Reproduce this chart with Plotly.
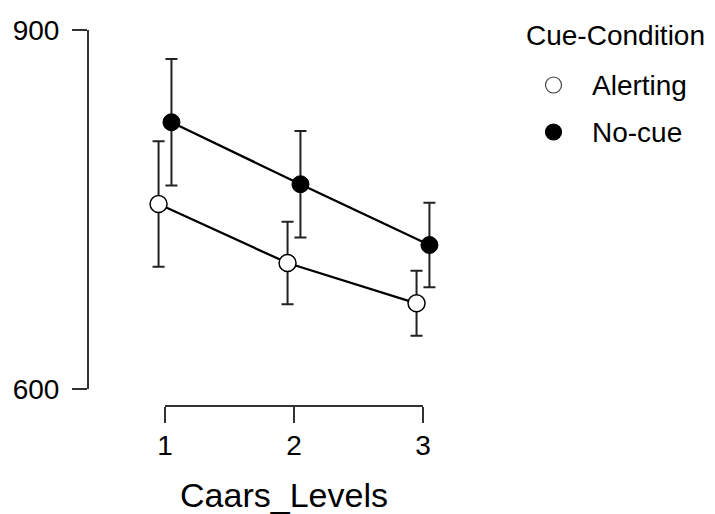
import plotly.graph_objects as go

levels = [1, 2, 3]
alerting_mean = [754.6, 705.3, 671.6]
alerting_err = [52.4, 34.5, 27.2]
nocue_mean = [822.9, 771.1, 720.3]
nocue_err = [52.8, 44.4, 35.3]
y_ticks = [600, 900]
series_names = ["Alerting", "No-cue"]
legend_title = "Cue-Condition"
dodge = 0.05

FONT = "Liberation Sans, Arial, sans-serif"
fig = go.Figure()

x_al = [v - dodge for v in levels]
x_nc = [v + dodge for v in levels]

for xs, ys in [(x_al, alerting_mean), (x_nc, nocue_mean)]:
    fig.add_trace(go.Scatter(x=xs, y=ys, mode="lines", line=dict(color="black", width=2.3),
                             showlegend=False, hoverinfo="skip", cliponaxis=False))

fig.add_trace(go.Scatter(
    x=x_al, y=alerting_mean, mode="markers", name=series_names[0], showlegend=False,
    marker=dict(size=17, color="white", line=dict(color="black", width=1.5)),
    error_y=dict(type="data", array=alerting_err, color="#222", thickness=2, width=6),
    cliponaxis=False))
fig.add_trace(go.Scatter(
    x=x_nc, y=nocue_mean, mode="markers", name=series_names[1], showlegend=False,
    marker=dict(size=17, color="black", line=dict(color="black", width=1)),
    error_y=dict(type="data", array=nocue_err, color="#222", thickness=2, width=6),
    cliponaxis=False))

# axis lines (R-style, spanning only the tick range)
fig.add_shape(type="line", xref="paper", yref="y", x0=0, x1=0, y0=min(y_ticks), y1=max(y_ticks),
              line=dict(color="#333", width=2))
fig.add_shape(type="line", xref="x", yref="paper", x0=min(levels), x1=max(levels), y0=0, y1=0,
              line=dict(color="#333", width=2))

# manual legend
fig.add_annotation(xref="paper", yref="paper", x=1.112, y=0.9867, xanchor="left", yanchor="middle",
                   text=legend_title, showarrow=False, font=dict(size=28))
leg_y = [0.8537, 0.7287]
fills = ["white", "black"]
for name, yy, fc in zip(series_names, leg_y, fills):
    fig.add_shape(type="circle", xref="paper", yref="paper", xsizemode="pixel", ysizemode="pixel",
                  xanchor=1.1875, yanchor=yy, x0=-8, x1=8, y0=-8, y1=8,
                  fillcolor=fc, line=dict(color="#444" if fc == "white" else "black", width=1.2))
    fig.add_annotation(xref="paper", yref="paper", x=1.281, y=yy, xanchor="left", yanchor="middle",
                       text=name, showarrow=False, font=dict(size=28))

fig.update_layout(
    template="none",
    width=707, height=506,
    margin=dict(l=80, r=235, t=22, b=108, pad=0),
    plot_bgcolor="white", paper_bgcolor="white",
    font=dict(family=FONT, color="black"),
    showlegend=False,
    xaxis=dict(range=[0.403, 3.442], tickvals=levels, ticktext=[str(v) for v in levels],
               showgrid=False, zeroline=False, showline=False, automargin=False,
               ticks="outside", ticklen=16, tickwidth=2, tickcolor="#333",
               tickfont=dict(size=28), ticklabelstandoff=-2,
               title=dict(text="Caars_Levels", font=dict(size=34), standoff=26)),
    yaxis=dict(range=[585.8, 900], tickvals=y_ticks, showgrid=False, zeroline=False, showline=False,
               automargin=False,
               ticks="outside", ticklen=15, tickwidth=2, tickcolor="#333",
               tickfont=dict(size=28), ticklabelstandoff=7),
)

fig.write_html("out.html")
